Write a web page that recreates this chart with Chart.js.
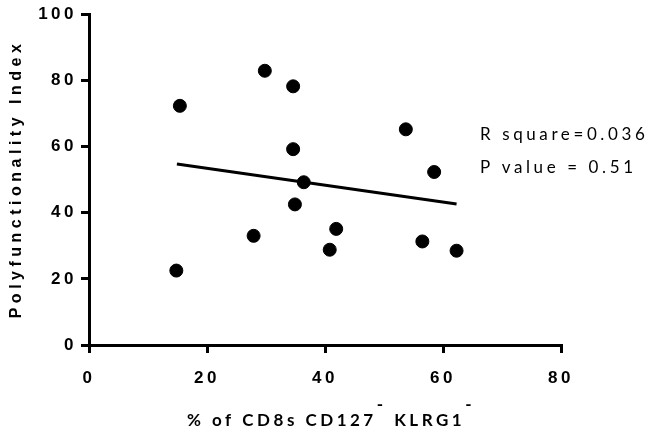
<!DOCTYPE html>
<html lang="en">
  <head>
    <meta charset="UTF-8" />
    <title>Polyfunctionality vs CD8s</title>
    <script src="https://cdn.jsdelivr.net/npm/chart.js@4.4.0/dist/chart.umd.min.js"></script>
    <style>
      html, body { margin: 0; padding: 0; background: #fff; }
      canvas { display: block; }
    </style>
  </head>
  <body>
    <canvas id="chart" width="649" height="435"></canvas>

    <script>
      // data
      const xVals = [15.4, 14.8, 29.8, 27.9, 34.6, 34.6, 34.9, 36.4, 40.8, 41.9, 53.7, 56.5, 58.5, 62.3];
      const yVals = [72.3, 22.5, 82.9, 33.0, 78.2, 59.2, 42.5, 49.2, 28.8, 35.1, 65.2, 31.3, 52.3, 28.5];
      const fitX = [14.9, 62.3];   // regression line ends
      const fitY = [54.7, 42.6];
      const xTicks = [0, 20, 40, 60, 80];
      const yTicks = [0, 20, 40, 60, 80, 100];
      const statLines = ['R square=0.036', 'P value = 0.51'];

      const points = xVals.map((x, i) => ({ x: x, y: yVals[i] }));
      const fitLine = fitX.map((x, i) => ({ x: x, y: fitY[i] }));

      // letter spaced text for ticks + our own labels
      const textPlugin = {
        id: 'texts',
        beforeDraw(chart) {
          chart.ctx.letterSpacing = '3.5px';
        },
        afterDraw(chart) {
          const ctx = chart.ctx;
          ctx.save();
          ctx.fillStyle = '#000';

          // y title
          ctx.save();
          ctx.translate(17, 179);
          ctx.rotate(-Math.PI / 2);
          ctx.font = 'bold 16px "Liberation Sans", Arial, sans-serif';
          ctx.letterSpacing = '4.5px';
          ctx.textAlign = 'center';
          ctx.textBaseline = 'middle';
          ctx.fillText('Polyfunctionality Index', 0, 0);
          ctx.restore();

          // x title with superscript minus signs
          ctx.font = 'bold 17px Lato, "Open Sans", sans-serif';
          ctx.letterSpacing = '3.5px';
          ctx.textAlign = 'left';
          ctx.textBaseline = 'middle';
          let x = 187;
          const parts = [['% of CD8s CD127', false], ['-', true], [' KLRG1', false], ['-', true]];
          parts.forEach(p => {
            ctx.fillText(p[0], x, p[1] ? 405 : 421);
            x += ctx.measureText(p[0]).width;
          });

          // stats
          ctx.font = '17px Lato, "Open Sans", sans-serif';
          ctx.letterSpacing = '3.6px';
          ctx.fillText(statLines[0], 480, 135);
          ctx.fillText(statLines[1], 480, 168);
          ctx.restore();
        }
      };

      const tickFont = { family: '"Liberation Sans", Arial, sans-serif', size: 17, weight: 'bold' };

      const ctx = document.getElementById('chart').getContext('2d');
      const myChart = new Chart(ctx, {
        type: 'scatter',
        data: {
          datasets: [{
            data: points,
            backgroundColor: '#000',
            borderColor: '#000',
            pointRadius: 6.5,
            pointHoverRadius: 6.5
          }, {
            type: 'line',
            data: fitLine,
            borderColor: '#000',
            borderWidth: 3,
            pointRadius: 0,
            fill: false
          }]
        },
        options: {
          responsive: false,
          animation: false,
          layout: { padding: { top: 12, right: 88, left: 0, bottom: 0 } },
          plugins: { legend: { display: false }, tooltip: { enabled: false } },
          scales: {
            x: {
              type: 'linear',
              min: 0,
              max: 80,
              afterBuildTicks: s => { s.ticks = xTicks.map(v => ({ value: v })); },
              afterFit: s => { s.height = 90; },
              grid: { display: true, drawOnChartArea: false, drawTicks: true, tickLength: 8, lineWidth: 3, color: '#000' },
              border: { display: true, width: 3, color: '#000' },
              ticks: { font: tickFont, color: '#000', padding: 15, maxRotation: 0 }
            },
            y: {
              type: 'linear',
              min: 0,
              max: 100,
              afterBuildTicks: s => { s.ticks = yTicks.map(v => ({ value: v })); },
              afterFit: s => { s.width = 89; },
              grid: { display: true, drawOnChartArea: false, drawTicks: true, tickLength: 8, lineWidth: 3, color: '#000' },
              border: { display: true, width: 3, color: '#000' },
              ticks: { font: tickFont, color: '#000', padding: 4 }
            }
          }
        },
        plugins: [textPlugin]
      });
    </script>
  </body>
</html>
